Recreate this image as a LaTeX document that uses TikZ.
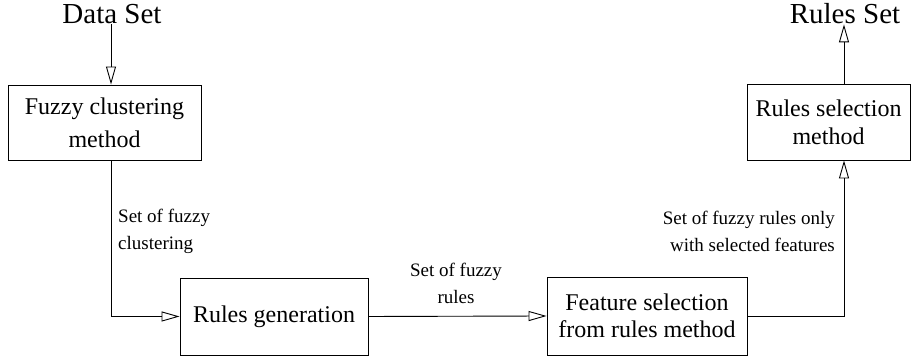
\documentclass[tikz,border=0pt]{standalone}
\usepackage{fontspec}
\setmainfont{Liberation Serif}
\usetikzlibrary{arrows.meta}
\begin{document}
\begin{tikzpicture}[x=1pt,y=1pt,
  box/.style={draw,line width=0.9pt,align=center,inner sep=0pt,font=\fontsize{24}{30}\selectfont},
  lbl/.style={inner sep=0pt,font=\fontsize{19}{27}\selectfont},
  big/.style={inner sep=0pt,font=\fontsize{29}{32}\selectfont},
  conn/.style={line width=0.9pt,-{Triangle[open,length=18pt,width=10pt]}}]
\useasboundingbox (0,0) rectangle (911,363);
\node[big] (ds) at (112,349) {Data Set};
\node[big] (rset) at (845,349) {Rules Set};
\node[box,minimum width=193pt,minimum height=75pt,font=\fontsize{24}{33}\selectfont] (fc) at (104.5,240.5) {Fuzzy clustering\\method};
\node[box,minimum width=188pt,minimum height=77pt] (rg) at (274,46.5) {Rules generation};
\node[box,minimum width=200pt,minimum height=78pt,font=\fontsize{24}{27}\selectfont] (fs) at (647,47) {Feature selection\\from rules method};
\node[box,minimum width=163pt,minimum height=76pt,font=\fontsize{24}{28}\selectfont] (rs) at (828.5,241) {Rules selection\\method};
\coordinate (cx) at (111,0);
\coordinate (rx) at (844,0);
\draw[conn] (ds.south -| cx) -- (fc.north -| cx);
\draw[conn] (fc.south -| cx) |- (rg.west);
\draw[conn] (rg.east) -- (fs.west);
\draw[conn] (fs.east) -| (rs.south -| rx);
\draw[conn] (rs.north -| rx) -- (rset.south -| rx);
\node[lbl,anchor=west,align=left] (l1) at (118,132) {Set of fuzzy\\clustering};
\node[lbl,align=center] (l2) at (456,80) {Set of fuzzy\\rules};
\node[lbl,anchor=east,align=right] (l3) at (835,132) {Set of fuzzy rules only\\with selected features};
\end{tikzpicture}
\end{document}
